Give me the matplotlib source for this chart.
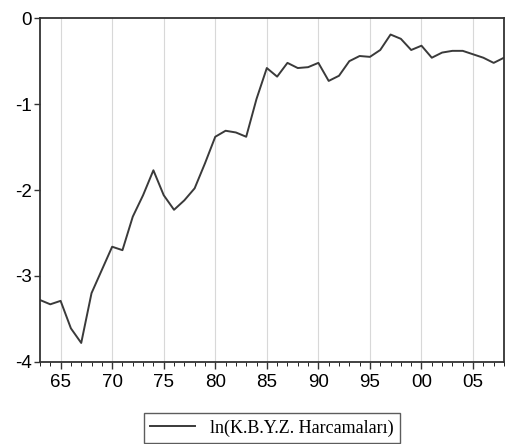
import matplotlib
matplotlib.use('Agg')
import matplotlib.pyplot as plt
from matplotlib.ticker import MultipleLocator, FuncFormatter

years = list(range(1963, 2009))
values = [-3.28, -3.33, -3.29, -3.61, -3.78, -3.20, -2.93, -2.66, -2.70, -2.31,
          -2.06, -1.77, -2.06, -2.23, -2.12, -1.98, -1.69, -1.38, -1.31, -1.33,
          -1.38, -0.94, -0.58, -0.68, -0.52, -0.58, -0.57, -0.52, -0.73, -0.67,
          -0.50, -0.44, -0.45, -0.37, -0.19, -0.24, -0.37, -0.32, -0.46, -0.40,
          -0.38, -0.38, -0.42, -0.46, -0.52, -0.46]
label = 'ln(K.B.Y.Z. Harcamaları)'

plt.rcParams['font.family'] = ['Liberation Sans', 'DejaVu Sans']

fig = plt.figure(figsize=(5.06, 4.44), dpi=100)
ax = fig.add_axes([0.079, 0.185, 0.917, 0.774])

line, = ax.plot(years, values, color='#3a3a3a', linewidth=1.4)

ax.set_xlim(1963, 2008)
ax.set_ylim(-4, 0)
ax.xaxis.set_major_locator(MultipleLocator(5))
ax.xaxis.set_minor_locator(MultipleLocator(1))
ax.xaxis.set_major_formatter(FuncFormatter(lambda v, p: '%02d' % (int(v) % 100)))
ax.yaxis.set_major_locator(MultipleLocator(1))
ax.yaxis.set_major_formatter(FuncFormatter(lambda v, p: '%d' % v))
ax.grid(axis='x', which='major', color='#d8d8d8', linewidth=0.8)
ax.tick_params(axis='both', labelsize=13.5, color='#333333', width=1)
ax.tick_params(axis='x', which='major', length=5, pad=4)
ax.tick_params(axis='x', which='minor', length=3)
ax.tick_params(axis='y', length=4, pad=2)
for s in ax.spines.values():
    s.set_linewidth(1.3)
    s.set_color('#333333')

leg = fig.legend([line], [label], loc='upper center', bbox_to_anchor=(0.537, 0.07),
                 frameon=True, fancybox=False, edgecolor='#333333',
                 prop={'family': 'Liberation Serif', 'size': 13},
                 handlelength=2.5, borderpad=0.35, borderaxespad=0)
leg.get_frame().set_linewidth(1.0)

fig.savefig('out.png', dpi=100)
